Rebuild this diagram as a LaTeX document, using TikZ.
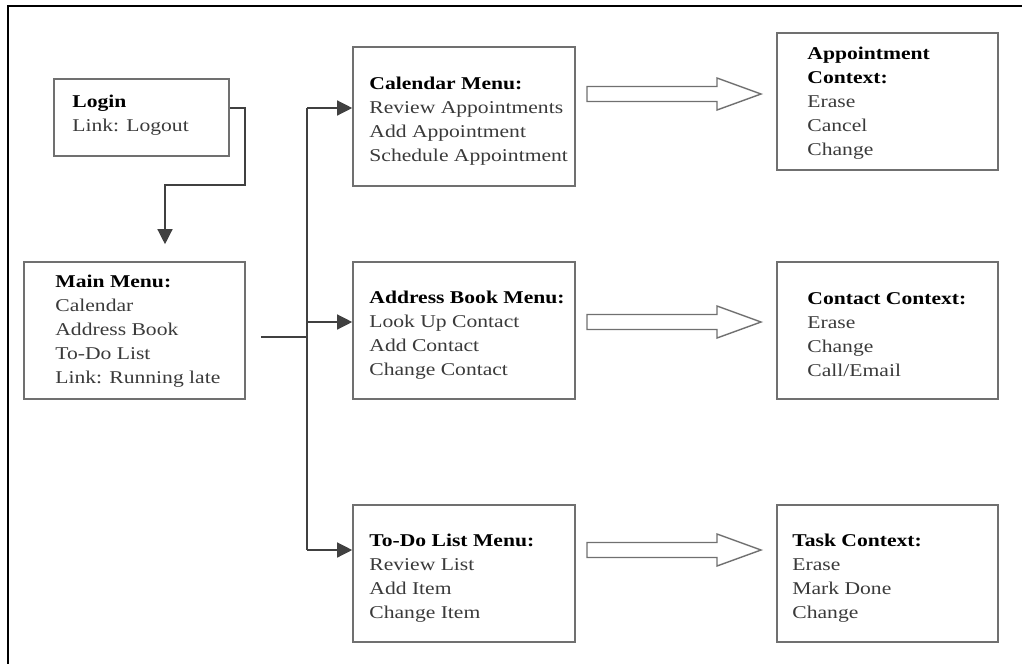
\documentclass[tikz,border=0pt]{standalone}
\usepackage{fontspec}
\setmainfont{Liberation Serif}[FakeStretch=1.2]
\usetikzlibrary{arrows.meta,calc}
\definecolor{boxgray}{HTML}{707070}
\definecolor{txtgray}{HTML}{3A3A3A}
\tikzset{
  box/.style={draw=boxgray, line width=1.6pt, rectangle, inner sep=0pt},
  txt/.style={anchor=west, align=left, inner sep=0pt, text=txtgray,
    font=\fontsize{18}{24}\selectfont},
  conn/.style={draw=black!75, line width=1.3pt},
  tip/.style={-{Triangle[length=15pt,width=15pt]}},
  hollow/.style={draw=boxgray, line width=1.4pt, fill=white, line join=miter},
  blockarr/.pic={\draw[hollow] (0,-7.5) -- (130,-7.5) -- (130,-16) -- (174,0)
      -- (130,16) -- (130,7.5) -- (0,7.5) -- cycle;}
}
\begin{document}
\begin{tikzpicture}[x=1pt,y=-1pt]
\useasboundingbox (0,0) rectangle (1022,664);
% outer frame (top and left only)
\draw[line width=1.8pt, black] (1022,6) -- (8,6) -- (8,664);

% boxes
\node[box, minimum width=175pt, minimum height=77pt] (login) at (141.5,117.5) {};
\node[box, minimum width=221pt, minimum height=137pt] (main) at (134.5,330.5) {};
\node[box, minimum width=222pt, minimum height=139pt] (cal) at (464,116.5) {};
\node[box, minimum width=222pt, minimum height=137pt] (addr) at (464,330.5) {};
\node[box, minimum width=222pt, minimum height=137pt] (todo) at (464,573.5) {};
\node[box, minimum width=221pt, minimum height=137pt] (appt) at (887.5,101.5) {};
\node[box, minimum width=221pt, minimum height=137pt] (cont) at (887.5,330.5) {};
\node[box, minimum width=221pt, minimum height=137pt] (task) at (887.5,573.5) {};

% texts
\node[txt] (logint) at ([xshift=19pt,yshift=2.5pt]login.west)
  {\textbf{\color{black}Login}\\Link: Logout};
\node[txt] (maint) at ([xshift=32pt,yshift=-0.5pt]main.west)
  {\textbf{\color{black}Main Menu:}\\Calendar\\Address Book\\To-Do List\\Link: Running late};
\node[txt] (calt) at ([xshift=17pt,yshift=-4.5pt]cal.west)
  {\textbf{\color{black}Calendar Menu:}\\Review Appointments\\Add Appointment\\Schedule Appointment};
\node[txt] (addrt) at ([xshift=17pt,yshift=-4.5pt]addr.west)
  {\textbf{\color{black}Address Book Menu:}\\Look Up Contact\\Add Contact\\Change Contact};
\node[txt] (todot) at ([xshift=17pt,yshift=-4.5pt]todo.west)
  {\textbf{\color{black}To-Do List Menu:}\\Review List\\Add Item\\Change Item};
\node[txt] (apptt) at ([xshift=31pt,yshift=-1.5pt]appt.west)
  {\textbf{\color{black}Appointment}\\\textbf{\color{black}Context:}\\Erase\\Cancel\\Change};
\node[txt] (contt) at ([xshift=31pt,yshift=-4.5pt]cont.west)
  {\textbf{\color{black}Contact Context:}\\Erase\\Change\\Call/Email};
\node[txt] (taskt) at ([xshift=16pt,yshift=-4.5pt]task.west)
  {\textbf{\color{black}Task Context:}\\Erase\\Mark Done\\Change};

% login -> main
\coordinate (lgA) at (245,108);
\coordinate (lgB) at (245,185);
\draw[conn, tip] (login.east |- lgA) -- (lgA) -- (lgB) -| ($(main.north)+(30.5,-17)$);

% main -> trunk
\coordinate (hub) at (307,337);
\coordinate (tTop) at (307,108);
\coordinate (tMid) at (307,322);
\coordinate (tBot) at (307,550);
\draw[conn] ($(main.east)+(15,6.5)$) -- (hub);
\draw[conn] (tTop) -- (tBot);
\draw[conn, tip] (tTop) -- (tTop -| cal.west);
\draw[conn, tip] (tMid) -- (tMid -| addr.west);
\draw[conn, tip] (tBot) -- (tBot -| todo.west);

% block arrows
\pic (ba1) at (587,94) {blockarr};
\pic (ba2) at (587,322) {blockarr};
\pic (ba3) at (587,550) {blockarr};
\end{tikzpicture}
\end{document}
